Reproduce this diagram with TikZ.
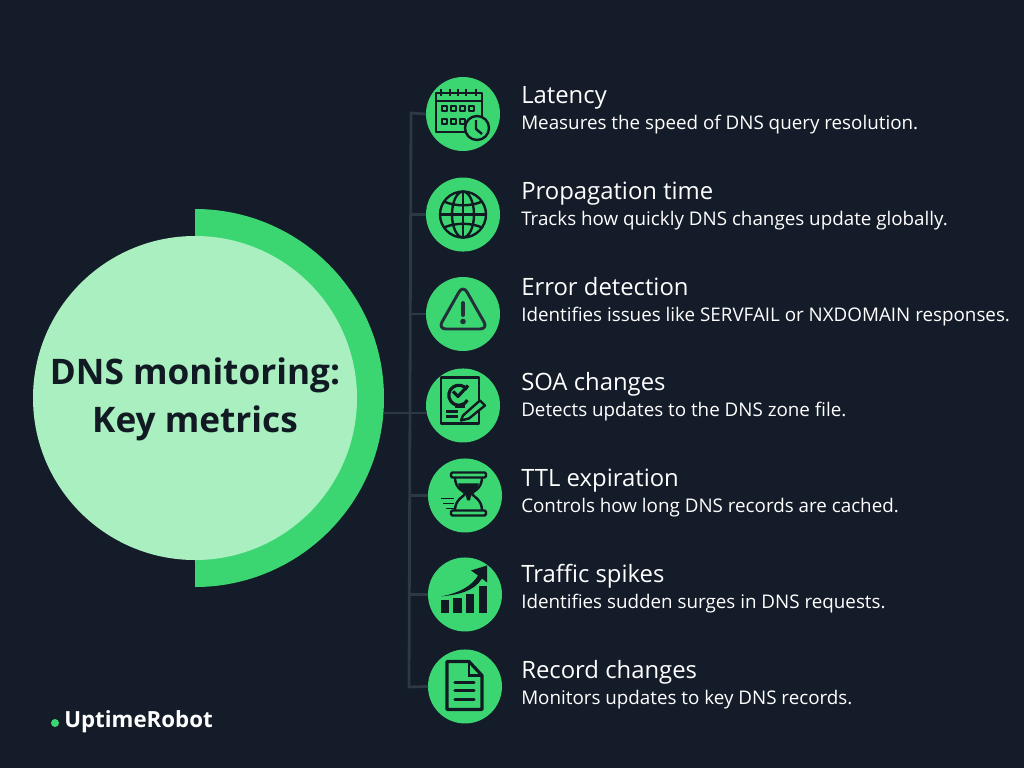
\documentclass[tikz,border=0pt]{standalone}
\usepackage{fontspec}
\setmainfont{Open Sans}
\usetikzlibrary{positioning}
\definecolor{bgdark}{HTML}{131C28}
\definecolor{robotgreen}{HTML}{3BD671}
\definecolor{palegreen}{HTML}{A9EFC0}
\definecolor{wirecol}{HTML}{2C3843}
\definecolor{inkdark}{HTML}{111A22}
\tikzset{
	disc/.style={circle, fill=robotgreen, minimum size=55.5pt, inner sep=0pt, outer sep=0pt},
	wire/.style={draw=wirecol, line width=2.1pt},
	head/.style={anchor=base west, inner sep=0pt, text=white, font=\fontsize{17.9}{20}\selectfont},
	desc/.style={anchor=base west, inner sep=0pt, text=white, font=\fontsize{14.1}{16}\selectfont},
	ink/.style={draw=inkdark, line width=1.8pt, line join=round}
}
\begin{document}
\begin{tikzpicture}[x=0.75pt, y=-0.75pt]
	\useasboundingbox (0,0) rectangle (1024,768);
	\fill[bgdark] (0,0) rectangle (1024,768);

	% left badge
	\coordinate (hub) at (195,398);
	\fill[robotgreen] (195,209) arc[start angle=90, end angle=-90, radius=189*0.75pt] -- cycle;
	\node[circle, fill=palegreen, minimum size=243pt, inner sep=0pt] (core) at (hub) {};
	\node[align=center, text=inkdark, font=\fontsize{26.4}{36}\selectfont\bfseries] (title) at (195,399) {DNS monitoring:\\Key metrics};

	% metric discs
	\coordinate (hubout) at (384,413);
	\coordinate (topbend) at (411,113);
	\coordinate (midbend) at (410,413);
	\coordinate (lowbend) at (409,687);
	\node[disc] (lat) at (463,114) {};
	\node[disc, below = 19.9pt of lat] (prop) {};
	\node[disc, below = 19.1pt of prop] (err) {};
	\node[disc, below = 13.1pt of err] (soa) {};
	\node[disc, below = 12pt of soa, xshift=1.5pt] (ttl) {};
	\node[disc, below = 18.75pt of ttl] (spike) {};
	\node[disc, below = 13.5pt of spike] (rec) {};

	% wires
	\draw[wire] (lat.west) -- (topbend) -- (lowbend) -- (rec.west);
	\draw[wire, shorten >=-1pt] (hubout) -- (hubout -| soa.west);
	\draw[wire] (prop.west) -- (prop.west -| topbend);
	\draw[wire] (err.west) -- (err.west -| topbend);
	\draw[wire] (ttl.west) -- (ttl.west -| midbend);
	\draw[wire] (spike.west) -- (spike.west -| lowbend);

	% texts
	\node[head] (latT) at (521,103) {Latency};
	\node[desc] (latD) at (521,129.5) {Measures the speed of DNS query resolution.};
	\node[head] (propT) at (521,199) {Propagation time};
	\node[desc] (propD) at (521,225) {Tracks how quickly DNS changes update globally.};
	\node[head] (errT) at (521,295) {Error detection};
	\node[desc] (errD) at (521,321) {Identifies issues like SERVFAIL or NXDOMAIN responses.};
	\node[head] (soaT) at (521,390) {SOA changes};
	\node[desc] (soaD) at (521,416.5) {Detects updates to the DNS zone file.};
	\node[head] (ttlT) at (521,486) {TTL expiration};
	\node[desc] (ttlD) at (521,512.5) {Controls how long DNS records are cached.};
	\node[head] (spikeT) at (521,582) {Traffic spikes};
	\node[desc] (spikeD) at (521,608.5) {Identifies sudden surges in DNS requests.};
	\node[head] (recT) at (521,678) {Record changes};
	\node[desc] (recD) at (521,704.5) {Monitors updates to key DNS records.};

	% calendar
	\begin{scope}[shift={(lat.center)}]
		\draw[ink] (-27,-21) rectangle (19,18);
		\draw[ink] (-27,-13) -- (19,-13);
		\foreach \tx in {-22,-13,-5,3,13}
			\draw[ink] (\tx,-25) -- (\tx,-18);
		\foreach \sx in {-21,-12,-3,6}
			\draw[ink, line width=1.4pt] (\sx,-8) rectangle ++(5,5);
		\foreach \sx in {-21,-12,-3}
			\draw[ink, line width=1.4pt] (\sx,5) rectangle ++(5,5);
		\draw[ink, fill=robotgreen] (14,14) circle[radius=12*0.75pt];
		\draw[ink] (13,6) -- (13,15) -- (19,20);
	\end{scope}

	% globe
	\begin{scope}[shift={(prop.center)}]
		\draw[ink] (0,0) circle[radius=23*0.75pt];
		\draw[ink] (0,0) ellipse[x radius=11*0.75pt, y radius=23*0.75pt];
		\draw[ink] (0,-23) -- (0,23);
		\draw[ink] (-23,0) -- (23,0);
		\draw[ink] (-19,-13) .. controls (-8,-8) and (8,-8) .. (19,-13);
		\draw[ink] (-19,13) .. controls (-8,8) and (8,8) .. (19,13);
	\end{scope}

	% warning sign
	\begin{scope}[shift={(err.center)}]
		\draw[draw=wirecol!70!inkdark, line width=2.2pt, rounded corners=6pt, line join=round] (0,-29) -- (25,15) -- (-25,15) -- cycle;
		\draw[draw=wirecol!70!inkdark, line width=2.8pt, line cap=round] (0,-11) -- (0,1);
		\fill[wirecol!70!inkdark] (0,7.5) circle[radius=2.8*0.75pt];
	\end{scope}

	% soa document
	\begin{scope}[shift={(soa.center)}]
		\draw[ink] (-22,-28) rectangle (16,18);
		\draw[ink, line width=2.4pt] (4,-16) arc[start angle=35, end angle=330, radius=10*0.75pt];
		\draw[ink, line width=2.4pt] (-10,-14) -- (-5,-9) -- (5,-20);
		\draw[ink] (-8,1) -- (2,1);
		\draw[ink] (-17,6) -- (-5,6);
		\draw[ink] (-17,11) -- (-5,11);
		\draw[ink, fill=robotgreen] (0,10) -- (17,-5) -- (22,0) -- (6,13) -- (-2,15) -- cycle;
	\end{scope}

	% hourglass
	\begin{scope}[shift={(ttl.center)}]
		\draw[ink, rounded corners=1pt] (-14,-23) rectangle (21,-18);
		\draw[ink, rounded corners=1pt] (-14,15) rectangle (21,20);
		\draw[ink] (-10,-18) .. controls (-10,-6) and (0,-4) .. (0,-2) .. controls (0,1) and (-10,3) .. (-10,15);
		\draw[ink] (17,-18) .. controls (17,-6) and (7,-4) .. (7,-2) .. controls (7,1) and (17,3) .. (17,15);
		\fill[inkdark] (-7,-12) -- (14,-12) .. controls (13,-6) and (6,-4) .. (5,5) -- (2,5) .. controls (1,-4) and (-6,-6) .. (-7,-12) -- cycle;
		\foreach \ly/\lx in {3/-24,8/-22,13/-19}
			\draw[ink, line width=1.3pt] (\lx,\ly) -- (-11,\ly);
	\end{scope}

	% growth chart
	\begin{scope}[shift={(spike.center)}]
		\fill[inkdark] (-24,6) rectangle (-16,19);
		\fill[inkdark] (-12,4) rectangle (-3,19);
		\fill[inkdark] (1,0) rectangle (9,19);
		\fill[inkdark] (14,-8) rectangle (22,19);
		\fill[inkdark] (-24,2) .. controls (-4,-2) and (7,-9) .. (13,-19) -- (6,-24) -- (22,-29) -- (22,-12) -- (17,-16) .. controls (9,-3) and (-6,0) .. (-24,2) -- cycle;
	\end{scope}

	% record page
	\begin{scope}[shift={(rec.center)}]
		\draw[draw=inkdark, line width=2.4pt, line join=round] (-18,-25) -- (4,-25) -- (17,-11) -- (17,23) -- (-18,23) -- cycle;
		\draw[draw=inkdark, line width=1.8pt] (4,-25) -- (4,-11) -- (17,-11);
		\foreach \ry in {-4,4,13}
			\draw[draw=inkdark, line width=2.6pt, line cap=round] (-10,\ry) -- (9,\ry);
	\end{scope}

	% logo
	\fill[robotgreen] (55,723) circle[radius=4*0.75pt];
	\node[anchor=base west, inner sep=0pt, text=white, font=\fontsize{16.7}{18}\selectfont\bfseries] (logo) at (64,727) {UptimeRobot};
\end{tikzpicture}
\end{document}
